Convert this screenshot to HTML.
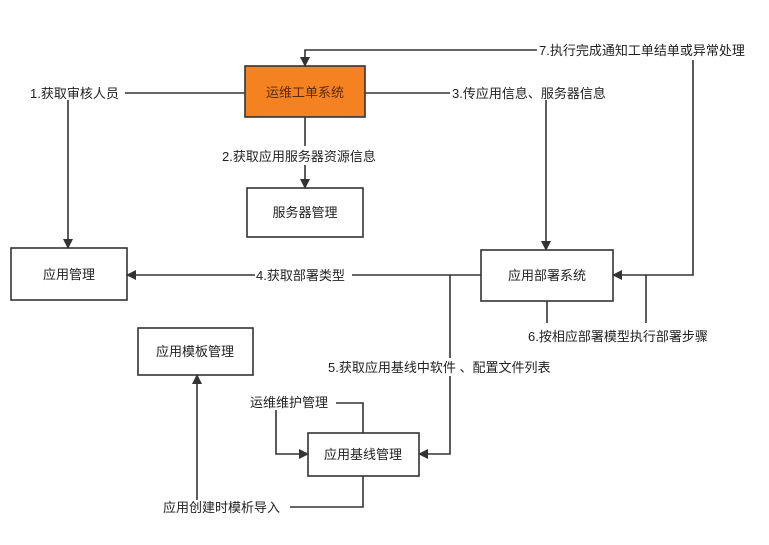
<!DOCTYPE html>
<html><head><meta charset="utf-8"><style>
body{margin:0;background:#fff;}
svg text{font-family:"Liberation Sans","Noto Sans CJK SC",sans-serif;font-size:13px;fill:#222;}
</style></head><body>
<svg width="769" height="540" xmlns="http://www.w3.org/2000/svg">
<defs><marker id="a" markerWidth="10" markerHeight="10" refX="9" refY="5" orient="auto" markerUnits="userSpaceOnUse"><path d="M0,0 L10,5 L0,10 z" fill="#333"/></marker></defs>
<g stroke="#333" stroke-width="1.6" fill="none">
<rect x="245" y="66" width="120" height="51" fill="#f58220"/>
<rect x="247" y="188" width="116" height="49" fill="#fff"/>
<rect x="11" y="248" width="116" height="52" fill="#fff"/>
<rect x="481" y="250" width="132" height="51" fill="#fff"/>
<rect x="138" y="328" width="115" height="47" fill="#fff"/>
<rect x="308" y="433" width="111" height="43" fill="#fff"/>
<!-- 7 -->
<polyline points="537,50 305,50 305,66" marker-end="url(#a)"/>
<polyline points="693,60 693,275 613,275" marker-end="url(#a)"/>
<!-- 1 -->
<line x1="125" y1="93" x2="245" y2="93"/>
<polyline points="68,100 68,248" marker-end="url(#a)"/>
<!-- 3 -->
<line x1="365" y1="93" x2="450" y2="93"/>
<polyline points="546,100 546,250" marker-end="url(#a)"/>
<!-- 2 -->
<line x1="305" y1="117" x2="305" y2="146"/>
<polyline points="305,165 305,188" marker-end="url(#a)"/>
<!-- 4 -->
<line x1="481" y1="275" x2="352" y2="275"/>
<polyline points="255,275 127,275" marker-end="url(#a)"/>
<!-- 6 -->
<line x1="547" y1="301" x2="547" y2="323"/>
<line x1="646" y1="323" x2="646" y2="275"/>
<!-- 5 -->
<line x1="450" y1="275" x2="450" y2="358"/>
<polyline points="450,376 450,454 419,454" marker-end="url(#a)"/>
<!-- 运维维护 -->
<polyline points="336,403 363,403 363,433"/>
<polyline points="276,410 276,454 308,454" marker-end="url(#a)"/>
<!-- bottom -->
<polyline points="363,476 363,507 290,507"/>
<polyline points="197,500 197,375" marker-end="url(#a)"/>
</g>
<g text-anchor="middle">
<text x="305" y="97" style="fill:#5a2a00">运维工单系统</text>
<text x="305" y="217">服务器管理</text>
<text x="69" y="279">应用管理</text>
<text x="547" y="280">应用部署系统</text>
<text x="195" y="356">应用模板管理</text>
<text x="363" y="459">应用基线管理</text>
</g>
<text x="539" y="55">7.执行完成通知工单结单或异常处理</text>
<text x="30" y="98">1.获取审核人员</text>
<text x="452" y="98">3.传应用信息、服务器信息</text>
<text x="222" y="161">2.获取应用服务器资源信息</text>
<text x="256" y="280">4.获取部署类型</text>
<text x="528" y="341">6.按相应部署模型执行部署步骤</text>
<text x="328" y="372">5.获取应用基线中软件 、配置文件列表</text>
<text x="250" y="407">运维维护管理</text>
<text x="163" y="512">应用创建时模析导入</text>
</svg>
</body></html>
